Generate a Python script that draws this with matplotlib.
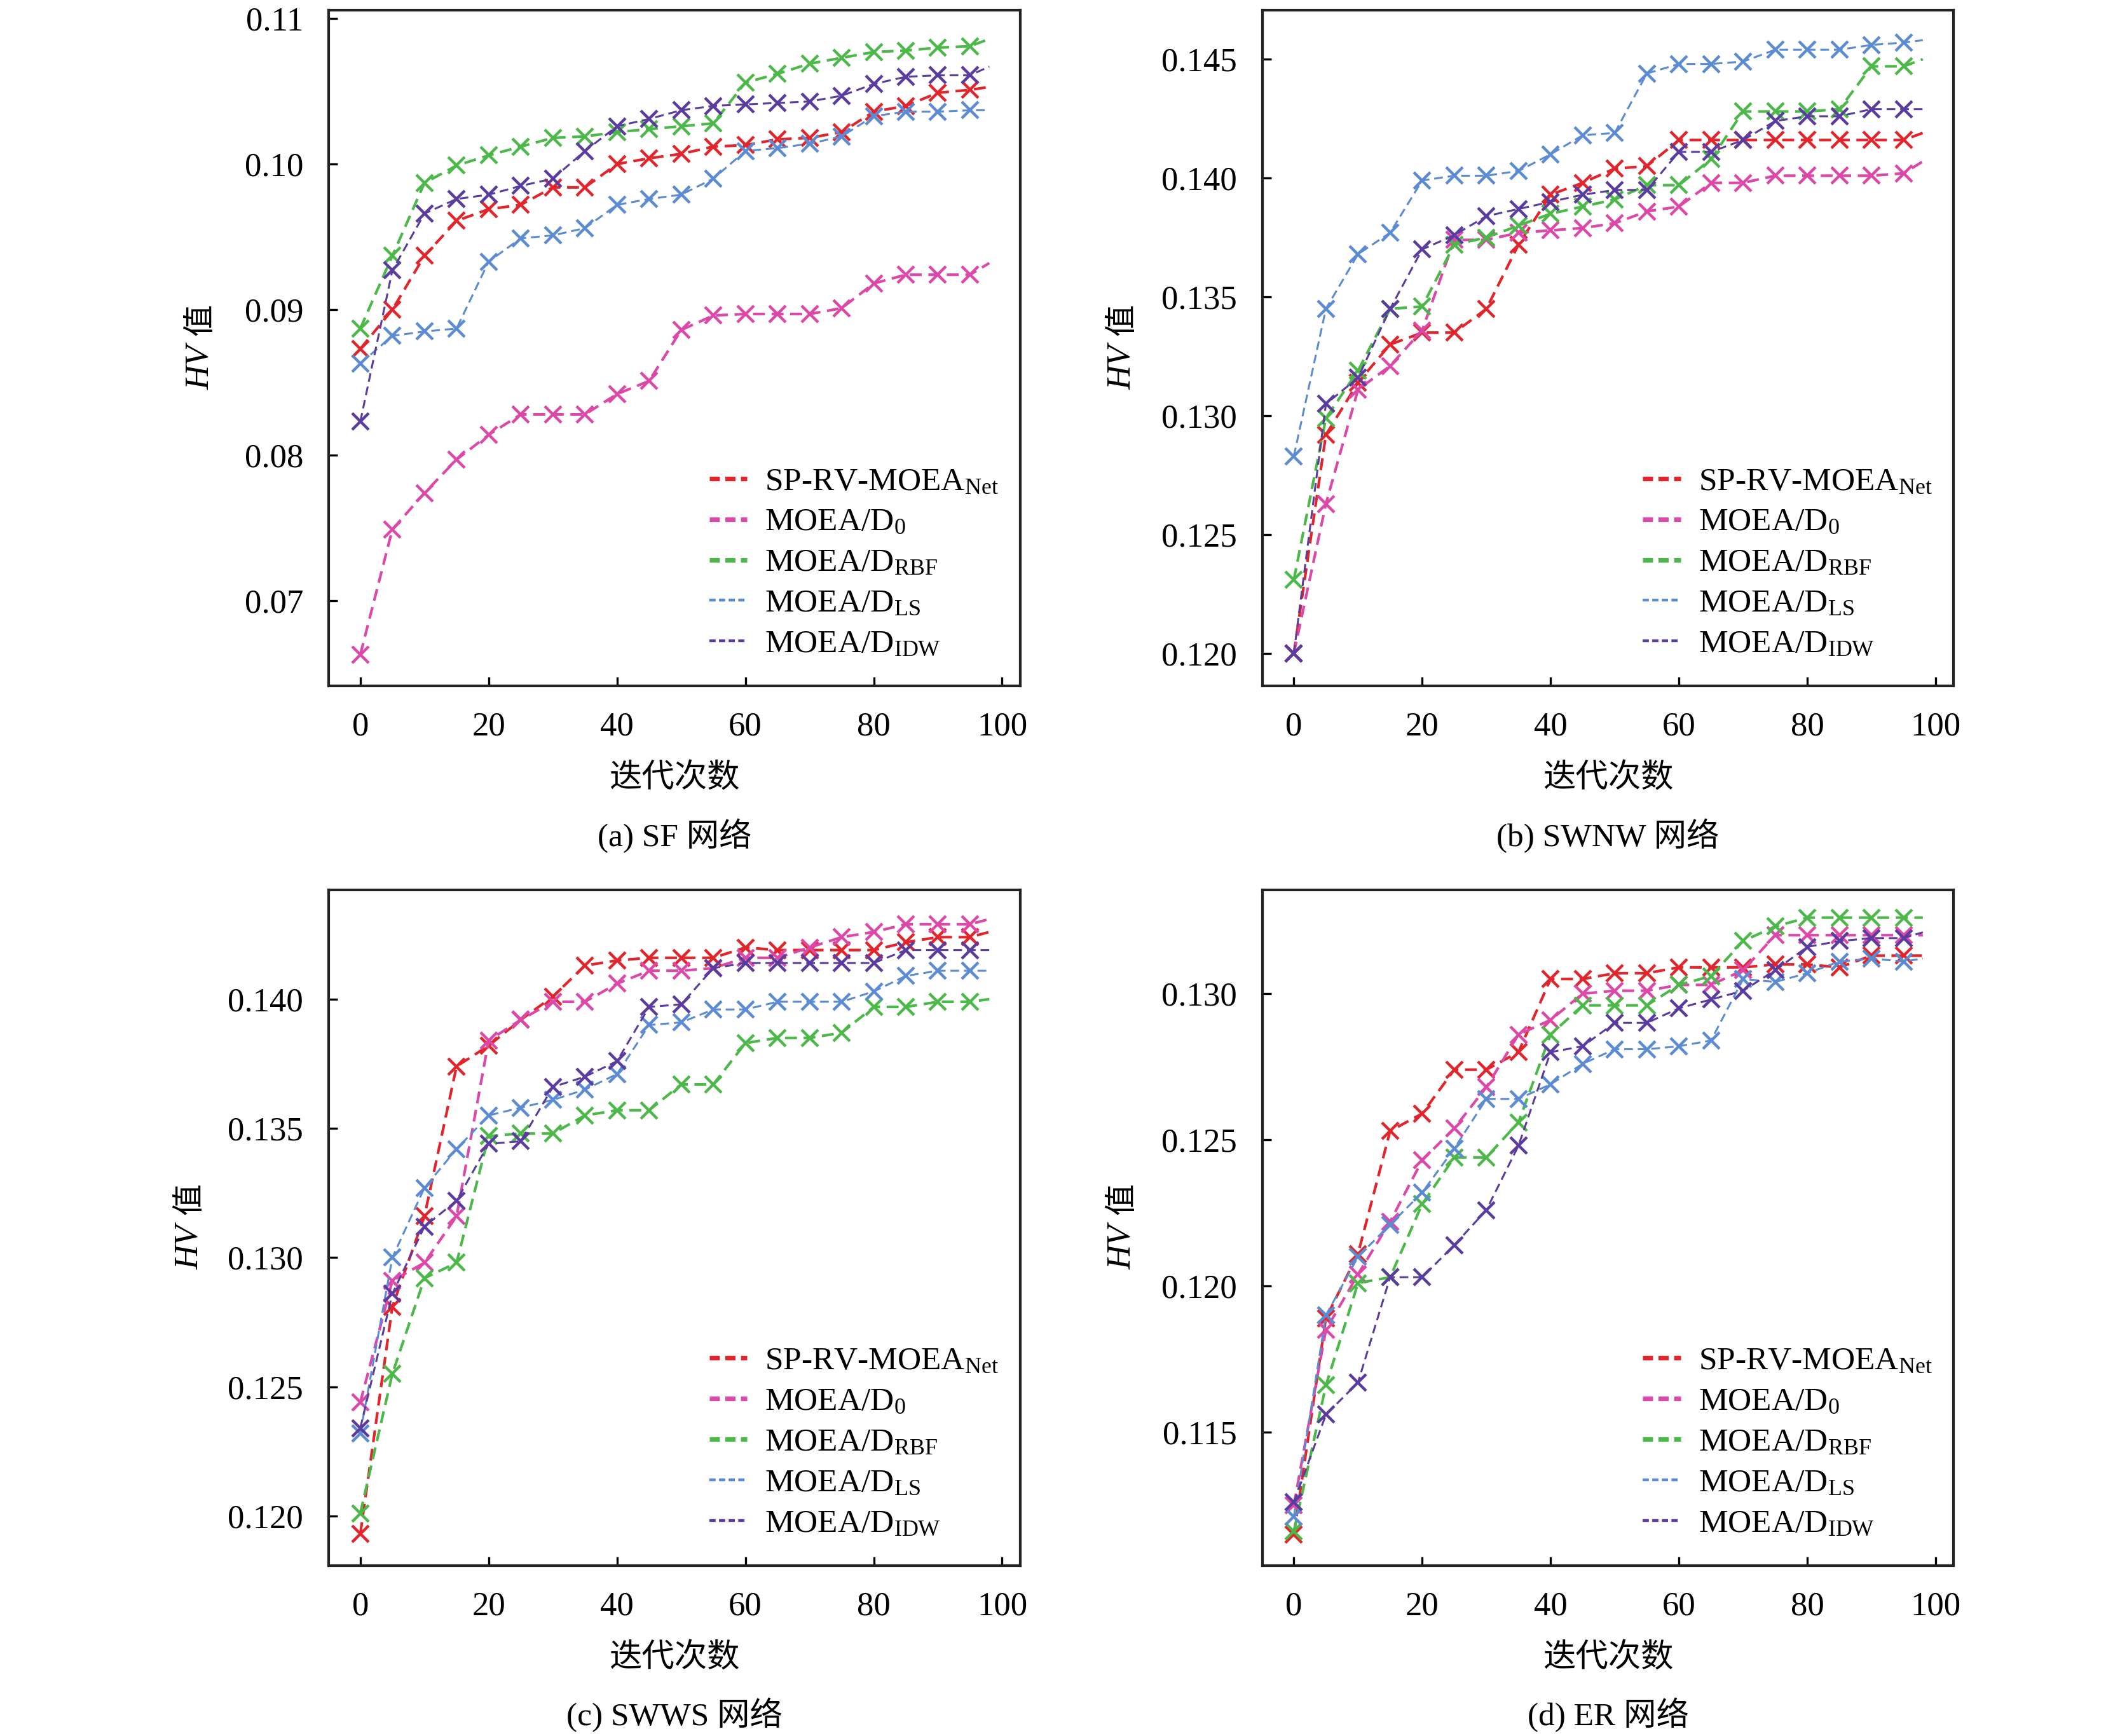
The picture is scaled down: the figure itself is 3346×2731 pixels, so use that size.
import matplotlib
matplotlib.use("Agg")
import matplotlib.pyplot as plt
from matplotlib.lines import Line2D
from matplotlib.ticker import FormatStrFormatter

plt.rcParams['font.family'] = ['Liberation Serif', 'Noto Sans CJK SC', 'DejaVu Sans']
plt.rcParams['mathtext.fontset'] = 'custom'
plt.rcParams['mathtext.rm'] = 'Liberation Serif'
plt.rcParams['mathtext.it'] = 'Liberation Serif:italic'

# iterations (markers every 5, line ends at 98)
iters = [0, 5, 10, 15, 20, 25, 30, 35, 40, 45, 50, 55, 60, 65, 70, 75, 80, 85, 90, 95, 98]

series_names = ['SP-RV-MOEA$_{\\mathrm{Net}}$', 'MOEA/D$_{\\mathrm{0}}$', 'MOEA/D$_{\\mathrm{RBF}}$',
                'MOEA/D$_{\\mathrm{LS}}$', 'MOEA/D$_{\\mathrm{IDW}}$']
colors = ['#e2242b', '#dc48a8', '#4cb849', '#5b8bd2', '#5a3b9f']

# (a) SF
a_net = [0.0873, 0.0900, 0.0937, 0.0961, 0.0969, 0.0972, 0.0984, 0.0984, 0.1000, 0.1004, 0.1007, 0.1012, 0.1013, 0.1017, 0.1018, 0.1022, 0.1036, 0.1040, 0.1049, 0.1051, 0.1053]
a_d0 = [0.0663, 0.0749, 0.0774, 0.0797, 0.0814, 0.0828, 0.0828, 0.0828, 0.0842, 0.0851, 0.0886, 0.0896, 0.0897, 0.0897, 0.0897, 0.0901, 0.0918, 0.0924, 0.0924, 0.0924, 0.0932]
a_rbf = [0.0887, 0.0937, 0.0987, 0.0999, 0.1006, 0.1012, 0.1018, 0.1019, 0.1022, 0.1024, 0.1026, 0.1028, 0.1056, 0.1062, 0.1069, 0.1073, 0.1077, 0.1078, 0.1080, 0.1081, 0.1086]
a_ls = [0.0863, 0.0882, 0.0885, 0.0887, 0.0933, 0.0949, 0.0951, 0.0956, 0.0972, 0.0976, 0.0979, 0.0990, 0.1009, 0.1011, 0.1014, 0.1019, 0.1033, 0.1036, 0.1036, 0.1037, 0.1037]
a_idw = [0.0823, 0.0927, 0.0966, 0.0976, 0.0979, 0.0985, 0.0990, 0.1009, 0.1026, 0.1031, 0.1037, 0.1040, 0.1041, 0.1042, 0.1043, 0.1047, 0.1055, 0.1060, 0.1061, 0.1061, 0.1067]

# (b) SWNW
b_net = [0.1200, 0.1292, 0.1314, 0.1330, 0.1335, 0.1335, 0.1345, 0.1372, 0.1393, 0.1398, 0.1404, 0.1405, 0.1416, 0.1416, 0.1416, 0.1416, 0.1416, 0.1416, 0.1416, 0.1416, 0.1419]
b_d0 = [0.1200, 0.1263, 0.1311, 0.1321, 0.1336, 0.1374, 0.1374, 0.1377, 0.1378, 0.1379, 0.1381, 0.1386, 0.1388, 0.1398, 0.1398, 0.1401, 0.1401, 0.1401, 0.1401, 0.1402, 0.1407]
b_rbf = [0.1231, 0.1299, 0.1319, 0.1345, 0.1346, 0.1372, 0.1375, 0.1380, 0.1385, 0.1388, 0.1391, 0.1397, 0.1397, 0.1408, 0.1428, 0.1428, 0.1428, 0.1429, 0.1447, 0.1447, 0.1450]
b_ls = [0.1283, 0.1345, 0.1368, 0.1377, 0.1399, 0.1401, 0.1401, 0.1403, 0.1410, 0.1418, 0.1419, 0.1444, 0.1448, 0.1448, 0.1449, 0.1454, 0.1454, 0.1454, 0.1456, 0.1457, 0.1458]
b_idw = [0.1200, 0.1305, 0.1316, 0.1345, 0.1370, 0.1376, 0.1384, 0.1387, 0.1390, 0.1393, 0.1395, 0.1395, 0.1411, 0.1411, 0.1416, 0.1424, 0.1426, 0.1426, 0.1429, 0.1429, 0.1429]

# (c) SWWS
c_net = [0.1193, 0.1281, 0.1316, 0.1374, 0.1382, 0.1392, 0.1401, 0.1413, 0.1415, 0.1416, 0.1416, 0.1416, 0.1420, 0.1419, 0.1419, 0.1419, 0.1419, 0.1422, 0.1424, 0.1424, 0.1426]
c_d0 = [0.1244, 0.1291, 0.1298, 0.1316, 0.1384, 0.1392, 0.1399, 0.1399, 0.1406, 0.1411, 0.1411, 0.1412, 0.1416, 0.1416, 0.1420, 0.1424, 0.1426, 0.1429, 0.1429, 0.1429, 0.1431]
c_rbf = [0.1201, 0.1255, 0.1292, 0.1298, 0.1347, 0.1348, 0.1348, 0.1355, 0.1357, 0.1357, 0.1367, 0.1367, 0.1383, 0.1385, 0.1385, 0.1387, 0.1397, 0.1397, 0.1399, 0.1399, 0.1400]
c_ls = [0.1232, 0.1300, 0.1327, 0.1342, 0.1355, 0.1358, 0.1361, 0.1365, 0.1371, 0.1390, 0.1391, 0.1396, 0.1396, 0.1399, 0.1399, 0.1399, 0.1403, 0.1409, 0.1411, 0.1411, 0.1411]
c_idw = [0.1234, 0.1286, 0.1312, 0.1322, 0.1344, 0.1345, 0.1366, 0.1370, 0.1376, 0.1397, 0.1398, 0.1412, 0.1414, 0.1414, 0.1414, 0.1414, 0.1414, 0.1419, 0.1419, 0.1419, 0.1419]

# (d) ER
d_net = [0.1115, 0.1189, 0.1211, 0.1253, 0.1259, 0.1274, 0.1274, 0.1280, 0.1305, 0.1305, 0.1307, 0.1307, 0.1309, 0.1309, 0.1309, 0.1310, 0.1310, 0.1309, 0.1313, 0.1313, 0.1313]
d_d0 = [0.1125, 0.1185, 0.1204, 0.1222, 0.1243, 0.1254, 0.1268, 0.1286, 0.1291, 0.1300, 0.1301, 0.1301, 0.1303, 0.1303, 0.1308, 0.1320, 0.1320, 0.1320, 0.1320, 0.1320, 0.1320]
d_rbf = [0.1116, 0.1166, 0.1201, 0.1203, 0.1228, 0.1244, 0.1244, 0.1256, 0.1286, 0.1296, 0.1296, 0.1296, 0.1303, 0.1306, 0.1318, 0.1323, 0.1326, 0.1326, 0.1326, 0.1326, 0.1326]
d_ls = [0.1121, 0.1190, 0.1210, 0.1221, 0.1232, 0.1247, 0.1264, 0.1264, 0.1269, 0.1276, 0.1281, 0.1281, 0.1282, 0.1284, 0.1305, 0.1304, 0.1307, 0.1311, 0.1312, 0.1311, 0.1312]
d_idw = [0.1126, 0.1156, 0.1167, 0.1203, 0.1203, 0.1214, 0.1226, 0.1248, 0.1280, 0.1282, 0.1290, 0.1290, 0.1295, 0.1298, 0.1301, 0.1308, 0.1316, 0.1318, 0.1319, 0.1319, 0.1321]

captions = ['(a) SF 网络', '(b) SWNW 网络', '(c) SWWS 网络', '(d) ER 网络']
xlabel_text = '迭代次数'
ylabel_it = 'HV'
ylabel_cn = '值'
xticks = [0, 20, 40, 60, 80, 100]
a_yticks = [0.07, 0.08, 0.09, 0.10, 0.11]
b_yticks = [0.120, 0.125, 0.130, 0.135, 0.140, 0.145]
c_yticks = [0.120, 0.125, 0.130, 0.135, 0.140]
d_yticks = [0.115, 0.120, 0.125, 0.130]

LA, LB = 0.1546, 0.5935
BT, BB = 0.6049, 0.0982
W, H = 0.3250, 0.3892

panels = [
    dict(data=[a_net, a_d0, a_rbf, a_ls, a_idw], yticks=a_yticks, ylim=(0.06415, 0.11057), fmt='%.2f',
         pos=(LA, BT), yl=-0.0604),
    dict(data=[b_net, b_d0, b_rbf, b_ls, b_idw], yticks=b_yticks, ylim=(0.11864, 0.14706), fmt='%.3f',
         pos=(LB, BT), yl=-0.066),
    dict(data=[c_net, c_d0, c_rbf, c_ls, c_idw], yticks=c_yticks, ylim=(0.11808, 0.14423), fmt='%.3f',
         pos=(LA, BB), yl=-0.0655),
    dict(data=[d_net, d_d0, d_rbf, d_ls, d_idw], yticks=d_yticks, ylim=(0.11044, 0.13355), fmt='%.3f',
         pos=(LB, BB), yl=-0.066),
]

lws = [1.5, 1.5, 1.5, 1.1, 1.1]

fig = plt.figure(figsize=(16.73, 13.655), dpi=200)

for i, p in enumerate(panels):
    ax = fig.add_axes([p['pos'][0], p['pos'][1], W, H])
    for k, ys in enumerate(p['data']):
        ax.plot(iters, ys, color=colors[k], lw=lws[k], ls=(0, (4.5, 2.5)),
                marker='x', markersize=9.5, markeredgewidth=1.6, markevery=slice(0, 20), zorder=3)
    ax.set_xlim(-4.9, 102.8)
    ax.set_ylim(*p['ylim'])
    ax.set_xticks(xticks)
    ax.set_yticks(p['yticks'])
    ax.yaxis.set_major_formatter(FormatStrFormatter(p['fmt']))
    ax.tick_params(direction='in', length=5, width=1.2, labelsize=19, top=False, right=False)
    ax.tick_params(axis='x', pad=14.5)
    ax.tick_params(axis='y', pad=14.5)
    for s in ax.spines.values():
        s.set_linewidth(1.5)
        s.set_color('#222222')
    handles = [Line2D([0], [0], color=colors[k], lw=(2.6 if k < 3 else 1.6), ls=(0, (2.2, 1.2)))
               for k in range(5)]
    ax.legend(handles, series_names, loc='lower right', bbox_to_anchor=(0.993, 0.015), frameon=False,
              fontsize=18.5, handlelength=1.15, handletextpad=0.55, labelspacing=0.33, borderpad=0)
    x0, y0 = p['pos']
    yc = y0 + H * 0.5
    # y label: italic HV + upright 值
    fig.text(x0 + p['yl'], yc - 0.011, ylabel_it, rotation=90, ha='center', va='center',
             fontsize=19, fontstyle='italic', family='Liberation Serif')
    fig.text(x0 + p['yl'], yc + 0.0165, ylabel_cn, rotation=90, ha='center', va='center',
             fontsize=18, family=['Noto Sans CJK SC'])
    # x label
    fig.text(x0 + W * 0.5, y0 - 0.0535, xlabel_text, ha='center', va='center', fontsize=18.5)
    # caption
    fig.text(x0 + W * 0.5, y0 - 0.0862, captions[i], ha='center', va='center', fontsize=18.5)

fig.savefig('out.png', dpi=200)
